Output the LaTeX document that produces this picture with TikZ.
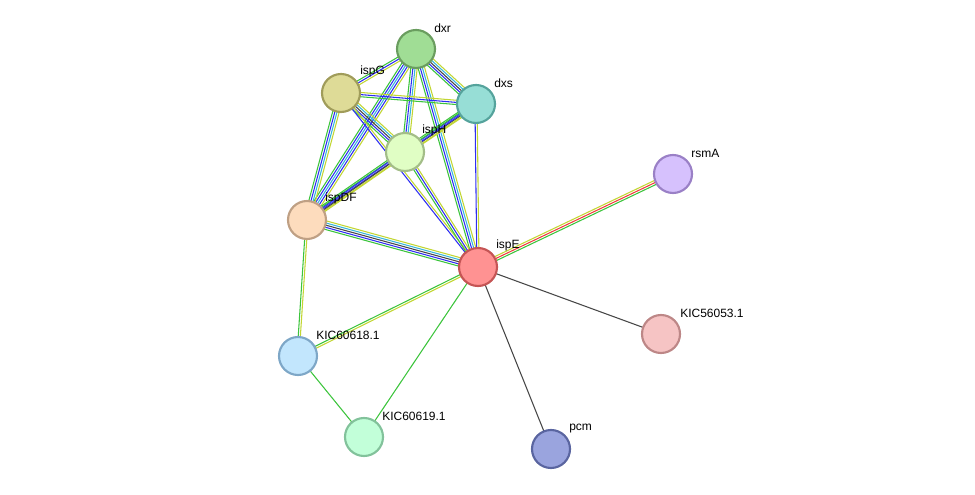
\documentclass[tikz,border=0pt]{standalone}
\usepackage{fontspec}
\setmainfont{Liberation Sans}
\usetikzlibrary{calc}
\definecolor{cgreen}{HTML}{3CC43C}
\definecolor{cblue}{HTML}{2E2EF2}
\definecolor{cblack}{HTML}{474747}
\definecolor{ccyan}{HTML}{37B7DB}
\definecolor{cyellow}{HTML}{C2D633}
\definecolor{cred}{HTML}{F03C3C}
\tikzset{
  prot/.style={circle, draw, line width=1.6pt, minimum size=28.5pt, inner sep=0pt},
  lbl/.style={font=\fontsize{9}{10}\selectfont, anchor=south west, inner sep=0pt},
}
% parallel lines, one per evidence colour
\newcommand{\evidence}[3]{%
  \foreach \c [count=\i] in {#3} {\xdef\nlines{\i}}%
  \foreach \c [count=\i] in {#3} {%
    \pgfmathsetmacro{\o}{(\i-(\nlines+1)/2)*1.6}%
    \draw[\c, line width=0.8pt] ($(#1)!\o pt!90:(#2)$) -- ($(#2)!\o pt!-90:(#1)$);
  }%
}
\begin{document}
\begin{tikzpicture}[x=0.75pt, y=-0.75pt]
\useasboundingbox (0,0) rectangle (975,495);
\coordinate (dxr) at (416,49);
\coordinate (ispG) at (341,93);
\coordinate (dxs) at (476,104);
\coordinate (ispH) at (405,152);
\coordinate (ispDF) at (307,220);
\coordinate (ispE) at (478,267);
\coordinate (rsmA) at (673,174);
\coordinate (KIC56053) at (661,334);
\coordinate (KIC60618) at (298,356);
\coordinate (KIC60619) at (364,437);
\coordinate (pcm) at (551,449);

\evidence{dxr}{ispG}{cgreen,cblue,cyellow}
\evidence{dxr}{dxs}{cgreen,cblue,cblack,ccyan,cyellow}
\evidence{dxr}{ispH}{cgreen,cblue,ccyan,cyellow}
\evidence{dxr}{ispDF}{cgreen,cblue,ccyan,cblue,cyellow}
\evidence{dxr}{ispE}{cgreen,cblue,ccyan,cyellow}
\evidence{ispG}{dxs}{cgreen,cblue,cyellow}
\evidence{ispG}{ispH}{cgreen,cblue,cblack,ccyan,cyellow}
\evidence{ispG}{ispDF}{cgreen,cblue,ccyan,cyellow}
\evidence{ispG}{ispE}{cblue,cyellow}
\evidence{dxs}{ispH}{cgreen,cblue,cblack,cyellow}
\evidence{dxs}{ispDF}{cgreen,cblue,cyellow}
\evidence{dxs}{ispE}{cblue,cyellow}
\evidence{ispH}{ispDF}{cgreen,cblue,cblack,cyellow}
\evidence{ispH}{ispE}{cgreen,cblue,cyellow}
\evidence{ispDF}{ispE}{cgreen,cblue,cblack,ccyan,cyellow}
\evidence{ispDF}{KIC60618}{cgreen,cyellow}
\evidence{ispE}{KIC60618}{cgreen,cyellow}
\evidence{ispE}{KIC60619}{cgreen}
\evidence{KIC60618}{KIC60619}{cgreen}
\evidence{ispE}{rsmA}{cgreen,cred,cyellow}
\evidence{ispE}{KIC56053}{cblack}
\evidence{ispE}{pcm}{cblack}

\node[prot, fill={rgb,255:red,160;green,221;blue,149}, draw={rgb,255:red,106;green,157;blue,95}] (n-dxr) at (dxr) {};
\node[prot, fill={rgb,255:red,222;green,219;blue,151}, draw={rgb,255:red,160;green,156;blue,90}] (n-ispG) at (ispG) {};
\node[prot, fill={rgb,255:red,151;green,222;blue,214}, draw={rgb,255:red,85;green,163;blue,156}] (n-dxs) at (dxs) {};
\node[prot, fill={rgb,255:red,224;green,254;blue,196}, draw={rgb,255:red,163;green,189;blue,136}] (n-ispH) at (ispH) {};
\node[prot, fill={rgb,255:red,253;green,220;blue,189}, draw={rgb,255:red,191;green,160;blue,132}] (n-ispDF) at (ispDF) {};
\node[prot, fill={rgb,255:red,255;green,146;blue,146}, draw={rgb,255:red,197;green,85;blue,85}] (n-ispE) at (ispE) {};
\node[prot, fill={rgb,255:red,214;green,193;blue,253}, draw={rgb,255:red,154;green,128;blue,198}] (n-rsmA) at (rsmA) {};
\node[prot, fill={rgb,255:red,246;green,196;blue,196}, draw={rgb,255:red,189;green,135;blue,135}] (n-KIC56053) at (KIC56053) {};
\node[prot, fill={rgb,255:red,194;green,230;blue,253}, draw={rgb,255:red,126;green,167;blue,199}] (n-KIC60618) at (KIC60618) {};
\node[prot, fill={rgb,255:red,194;green,255;blue,217}, draw={rgb,255:red,130;green,194;blue,155}] (n-KIC60619) at (KIC60619) {};
\node[prot, fill={rgb,255:red,154;green,164;blue,222}, draw={rgb,255:red,90;green,101;blue,160}] (n-pcm) at (pcm) {};

\node[lbl] at ($(dxr)+(18,-16)$) {dxr};
\node[lbl] at ($(ispG)+(19,-16)$) {ispG};
\node[lbl] at ($(dxs)+(18,-16)$) {dxs};
\node[lbl] at ($(ispH)+(17,-16)$) {ispH};
\node[lbl] at ($(ispDF)+(18,-16)$) {ispDF};
\node[lbl] at ($(ispE)+(18,-16)$) {ispE};
\node[lbl] at ($(rsmA)+(18,-16)$) {rsmA};
\node[lbl] at ($(KIC56053)+(19,-16)$) {KIC56053.1};
\node[lbl] at ($(KIC60618)+(18,-16)$) {KIC60618.1};
\node[lbl] at ($(KIC60619)+(18,-16)$) {KIC60619.1};
\node[lbl] at ($(pcm)+(18,-16)$) {pcm};
\end{tikzpicture}
\end{document}
